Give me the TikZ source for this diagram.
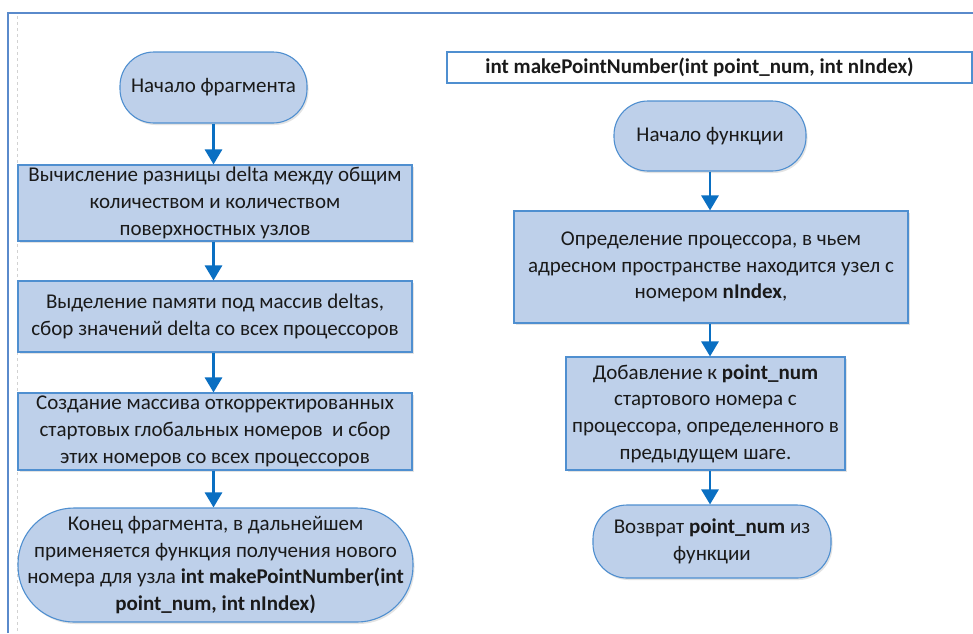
\documentclass[tikz,border=0pt]{standalone}
\usepackage{fontspec}
\setmainfont{Carlito}
\usetikzlibrary{arrows.meta,shadows}
\definecolor{boxfill}{HTML}{BED0EA}
\definecolor{boxline}{HTML}{4F8FD0}
\definecolor{arrowc}{HTML}{0A6FC2}
\definecolor{framec}{HTML}{5A8ACB}
\definecolor{txt}{HTML}{1A1A1A}
\tikzset{
  base/.style={draw=boxline, line width=1.1pt, fill=boxfill, align=center,
    inner sep=2pt, text=txt, font=\fontsize{21}{26.7}\selectfont,
    drop shadow={shadow xshift=1.5pt, shadow yshift=-2pt, opacity=0.18, fill=black!60}},
  procbox/.style={base},
  term/.style={base, rounded corners=34pt},
  bigterm/.style={base, rounded corners=56pt},
  flow/.style={draw=arrowc, line width=2.8pt, -{Triangle[width=17pt,length=15pt]}},
}
\begin{document}
\begin{tikzpicture}[x=1pt,y=-1pt]
\useasboundingbox (0,0) rectangle (973,633);
\fill[white] (0,0) rectangle (973,633);
% frame
\draw[framec, line width=1.6pt] (8,633) -- (8,13) -- (973,13);
\draw[gray!35, line width=0.8pt, dashed] (17,16) -- (17,633);

% left column
\node[term, minimum width=187pt, minimum height=71pt] (start) at (213.5,87.5) {Начало фрагмента};
\node[procbox, minimum width=394pt, minimum height=76pt] (b1) at (215,203)
  {Вычисление разницы delta между общим\\количеством и количеством\\поверхностных узлов};
\node[procbox, minimum width=394pt, minimum height=71pt] (b2) at (215,316.5)
  {Выделение памяти под массив deltas,\\сбор значений delta со всех процессоров};
\node[procbox, minimum width=394pt, minimum height=77pt] (b3) at (215,431.5)
  {Создание массива откорректированных\\стартовых глобальных номеров\ \ и сбор\\этих номеров со всех процессоров};
\node[bigterm, minimum width=395pt, minimum height=114pt] (fin) at (215.5,565)
  {Конец фрагмента, в дальнейшем\\применяется функция получения нового\\номера для узла \textbf{int makePointNumber(int}\\\textbf{point\_num, int nIndex)}};

% right column
\node[draw=boxline, line width=1.1pt, fill=white, minimum width=525pt, minimum height=31pt,
  inner sep=0pt, text=txt, font=\fontsize{21}{26.7}\selectfont\bfseries] (title) at (709.5,67.5)
  {\hspace*{-20pt}int makePointNumber(int point\_num, int nIndex)};
\node[term, minimum width=192pt, minimum height=70pt] (fstart) at (710,136) {Начало функции};
\node[procbox, minimum width=394pt, minimum height=112pt] (b4) at (711,267)
  {Определение процессора, в чьем\\адресном пространстве находится узел с\\номером \textbf{nIndex},};
\node[procbox, minimum width=279pt, minimum height=113pt] (b5) at (705.5,413.5)
  {Добавление к \textbf{point\_num}\\стартового номера с\\процессора, определенного в\\предыдущем шаге.};
\node[term, minimum width=238pt, minimum height=73pt] (ret) at (712,541.5)
  {Возврат \textbf{point\_num} из\\функции};

% connectors
\draw[flow] (start.south) -- (start.south |- b1.north);
\draw[flow] (b1.south -| start.south) -- (start.south |- b2.north);
\draw[flow] (b2.south -| start.south) -- (start.south |- b3.north);
\draw[flow] (b3.south -| start.south) -- (start.south |- fin.north);
\draw[flow] (fstart.south) -- (fstart.south |- b4.north);
\draw[flow] (b4.south -| fstart.south) -- (fstart.south |- b5.north);
\draw[flow] (b5.south -| fstart.south) -- (fstart.south |- ret.north);
\end{tikzpicture}
\end{document}
